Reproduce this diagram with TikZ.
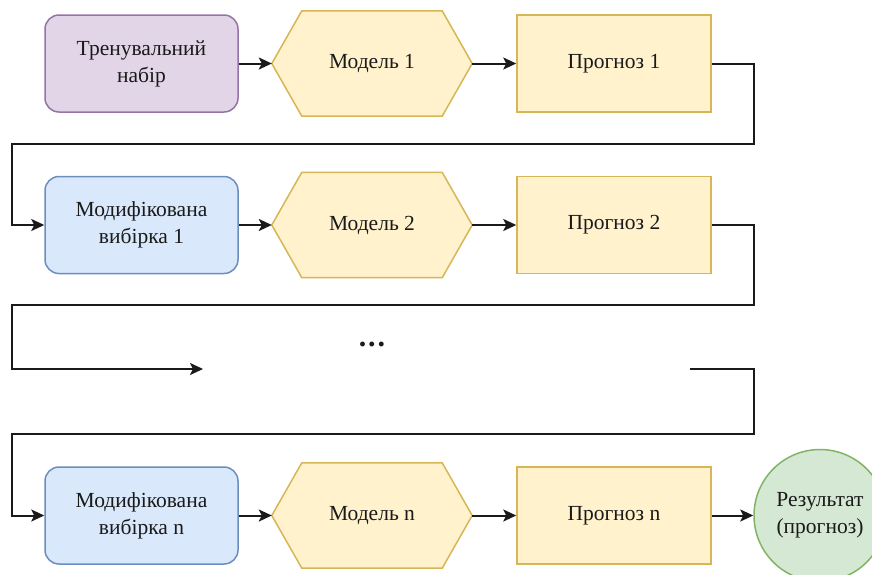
\documentclass[tikz,border=0pt]{standalone}
\usepackage{fontspec}
\setmainfont{Liberation Serif}
\usetikzlibrary{arrows.meta}

\definecolor{purpleFill}{HTML}{E1D5E7}
\definecolor{purpleLine}{HTML}{9673A6}
\definecolor{blueFill}{HTML}{DAE8FC}
\definecolor{blueLine}{HTML}{6C8EBF}
\definecolor{yellowFill}{HTML}{FFF2CC}
\definecolor{yellowLine}{HTML}{D6B656}
\definecolor{greenFill}{HTML}{D5E8D4}
\definecolor{greenLine}{HTML}{82B366}
\definecolor{ink}{HTML}{1A1A1A}

\tikzset{
  label font/.style={font=\fontsize{21.5}{27}\selectfont, text=ink, align=center},
  roundbox/.style={label font, rounded corners=14pt, line width=1.5pt,
    minimum width=193pt, minimum height=97pt, inner sep=0pt},
  databox/.style={roundbox, draw=purpleLine, fill=purpleFill},
  samplebox/.style={roundbox, draw=blueLine, fill=blueFill},
  forecastbox/.style={label font, draw=yellowLine, fill=yellowFill, line width=1.5pt,
    minimum width=194pt, minimum height=97pt, inner sep=0pt},
  modelbox/.style={label font, minimum width=200pt, minimum height=105pt, inner sep=0pt},
  hexline/.style={draw=yellowLine, fill=yellowFill, line width=1.5pt, line join=miter},
  resultnode/.style={label font, circle, draw=greenLine, fill=greenFill, line width=1.5pt,
    minimum size=132pt, inner sep=0pt},
  flow/.style={draw=ink, line width=2pt, -{Stealth[length=13pt, width=12pt, inset=3pt]}},
}

% hexagon drawn around a model node, pointed left and right
\newcommand{\modelhex}[1]{%
  \path[hexline] (#1.west) -- ([xshift=30pt]#1.north west) -- ([xshift=-30pt]#1.north east)
    -- (#1.east) -- ([xshift=-30pt]#1.south east) -- ([xshift=30pt]#1.south west) -- cycle;}

\begin{document}
\begin{tikzpicture}[x=1pt, y=-1pt]
\useasboundingbox (0,0) rectangle (872,574);
\begin{scope}
\clip (0,0) rectangle (872,574);

% row 1
\node[databox] (train) at (141.5,63.5) {Тренувальний\\набір};
\node[modelbox] (m1) at (372,63.5) {};
\modelhex{m1}
\node[label font] at (m1) {Модель 1};
\node[forecastbox] (p1) at (614,63.5) {Прогноз 1};

% row 2
\node[samplebox] (s1) at (141.5,225) {Модифікована\\вибірка 1};
\node[modelbox] (m2) at (372,225) {};
\modelhex{m2}
\node[label font] at (m2) {Модель 2};
\node[forecastbox] (p2) at (614,225) {Прогноз 2};

% gap row
\node[font=\fontsize{30}{30}\selectfont, text=ink] (dots) at (372,344) {\textbf{.\kern2pt.\kern2pt.}};
\coordinate (gapin) at (203,369);
\coordinate (gapout) at (690,369);

% row n
\node[samplebox] (sn) at (141.5,515.5) {Модифікована\\вибірка n};
\node[modelbox] (mn) at (372,515.5) {};
\modelhex{mn}
\node[label font] at (mn) {Модель n};
\node[forecastbox] (pn) at (614,515.5) {Прогноз n};
\node[resultnode] (res) at (820,515.5) {Результат\\(прогноз)};

% connectors within rows
\draw[flow] (train.east) -- (m1.west);
\draw[flow] (m1.east) -- (p1.west);
\draw[flow] (s1.east) -- (m2.west);
\draw[flow] (m2.east) -- (p2.west);
\draw[flow] (sn.east) -- (mn.west);
\draw[flow] (mn.east) -- (pn.west);
\draw[flow] (pn.east) -- (res.west);

% connectors wrapping to the next row
\draw[flow] (p1.east) -- (754,63.5) -- (754,144) -- (12,144) |- (s1.west);
\draw[flow] (p2.east) -- (754,225) -- (754,305) -- (12,305) |- (gapin);
\draw[flow] (gapout) -- (754,369) -- (754,434) -- (12,434) |- (sn.west);
\end{scope}
\end{tikzpicture}
\end{document}
